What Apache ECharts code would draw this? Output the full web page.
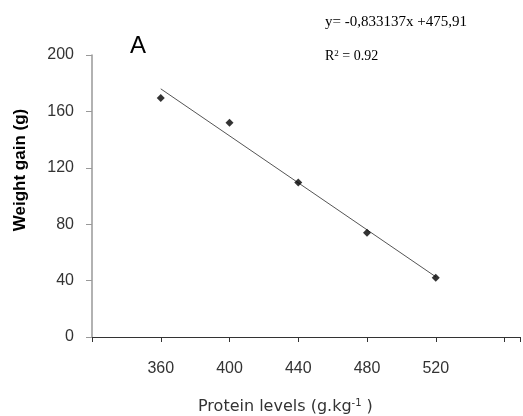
<!DOCTYPE html>
<html>
<head>
<meta charset="utf-8">
<script src="https://cdn.jsdelivr.net/npm/echarts@6/dist/echarts.min.js"></script>
<style>html,body{margin:0;padding:0;background:#fff}#c{width:523px;height:416px}</style>
</head>
<body>
<div id="c"></div>
<script>
// Data
var proteinLevels = [360, 400, 440, 480, 520];
var weightGain = [169.5, 152, 109.5, 74, 42];
var trendX = [360, 520];
var trendY = [176, 42.7];
var xTickLabels = ['360', '400', '440', '480', '520'];
var yTickLabels = ['0', '40', '80', '120', '160', '200'];
var equationText = 'y= -0,833137x +475,91';
var r2Text = '0.92';

var chart = echarts.init(document.getElementById('c'));
var points = proteinLevels.map(function (x, i) { return [x, weightGain[i]]; });
var trend = trendX.map(function (x, i) { return [x, trendY[i]]; });

chart.setOption({
  animation: false,
  backgroundColor: '#fff',
  grid: { left: 92, right: 0, top: 55, bottom: 79 },
  title: [
    { text: 'A', left: 125, top: 29, textStyle: { fontFamily: 'Liberation Sans', fontSize: 24, fontWeight: 'normal', color: '#000' } },
    { text: equationText, left: 320, top: 10, textStyle: { fontFamily: 'Liberation Serif', fontSize: 15, fontWeight: 'normal', color: '#000' } },
    { text: '{n|R}{s|2}{n| = ' + r2Text + '}', left: 320, top: 44, textStyle: { fontWeight: 'normal', rich: { n: { fontFamily: 'Liberation Serif', fontSize: 14, fontWeight: 'normal', color: '#000' }, s: { fontFamily: 'Liberation Serif', fontSize: 9, fontWeight: 'normal', color: '#000', padding: [0, 0, 6, 0] } } } },
    { text: '{n|Protein levels (g.kg}{s|-1}{n| )}', left: 193, top: 393, textStyle: { fontWeight: 'normal', rich: { n: { fontFamily: 'DejaVu Sans', fontSize: 16, fontWeight: 'normal', color: '#333' }, s: { fontFamily: 'DejaVu Sans', fontSize: 10, fontWeight: 'normal', color: '#333', padding: [0, 0, 7, 0] } } } }
  ],
  graphic: [
    { type: 'text', x: 20, y: 170, rotation: Math.PI / 2, style: { text: 'Weight gain (g)', font: 'bold 17px "Liberation Sans"', fill: '#000', textAlign: 'center', textVerticalAlign: 'middle' } }
  ],
  xAxis: {
    type: 'value', min: 320, max: 569, interval: 40,
    axisLine: { lineStyle: { color: '#333', width: 1 } },
    axisTick: { show: true, length: 5, lineStyle: { color: '#333' } },
    axisLabel: {
      margin: 24, fontFamily: 'Liberation Sans', fontSize: 16, color: '#333',
      formatter: function (v) { var s = String(v); return xTickLabels.indexOf(s) >= 0 ? s : ''; }
    },
    splitLine: { show: false }
  },
  yAxis: {
    type: 'value', min: 0, max: 200, interval: 40,
    axisLine: { show: true, lineStyle: { color: '#999', width: 1.5 } },
    axisTick: { show: true, length: 6, lineStyle: { color: '#999' } },
    axisLabel: {
      margin: 18, fontFamily: 'Liberation Sans', fontSize: 16, color: '#333',
      formatter: function (v) { var s = String(v); return yTickLabels.indexOf(s) >= 0 ? s : ''; }
    },
    splitLine: { show: false }
  },
  series: [
    { type: 'line', data: trend, symbol: 'none', lineStyle: { color: '#555', width: 1 }, silent: true, z: 1 },
    { type: 'scatter', data: points, symbol: 'diamond', symbolSize: 8, itemStyle: { color: '#000' }, z: 2 }
  ]
});
</script>
</body>
</html>
